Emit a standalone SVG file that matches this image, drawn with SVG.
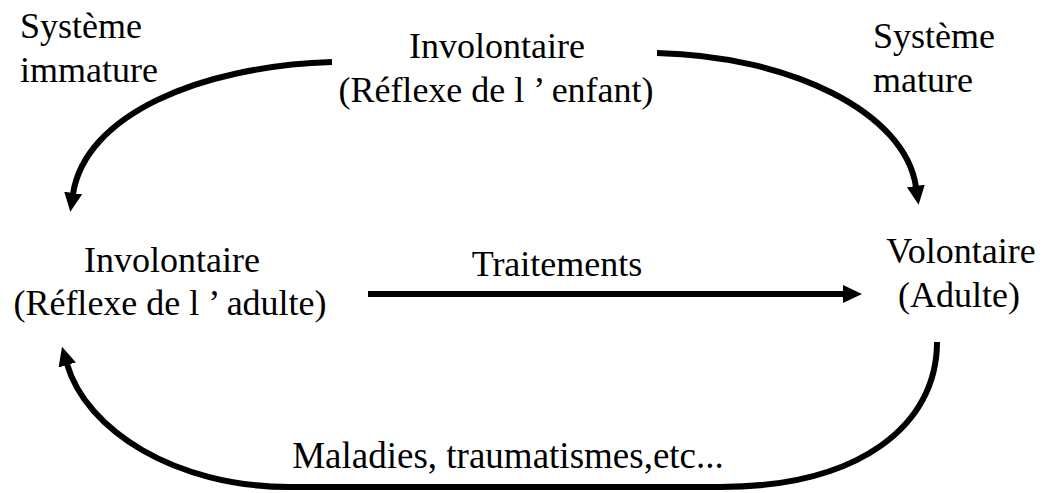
<svg xmlns="http://www.w3.org/2000/svg" width="1044" height="493" viewBox="0 0 1044 493">
<style>
text{font-family:'Liberation Serif','Tinos','Times New Roman','DejaVu Serif',serif;font-size:36px;fill:#000}
.c{text-anchor:middle}
.e{fill:none;stroke:#000;stroke-width:6}
</style>
<defs>
<marker id="ah" markerUnits="userSpaceOnUse" markerWidth="20" markerHeight="20" refX="1" refY="9" orient="auto">
<path d="M0,0 L19,9 L0,18 z" fill="#000"/>
</marker>
</defs>
<rect width="1044" height="493" fill="#fff"/>
<g id="connectors">
<path id="e-enfant-adulte" class="e" d="M332,62 C200,66 85,115 73,194" marker-end="url(#ah)"/>
<path id="e-enfant-volontaire" class="e" d="M657,53 C790,56 905,112 916,187" marker-end="url(#ah)"/>
<path id="e-traitements" class="e" d="M368,294 L844,294" marker-end="url(#ah)"/>
<path id="e-maladies" class="e" d="M937,342 C937,425 860,487 720,487 L290,487 C175,487 86,430 67,364" marker-end="url(#ah)"/>
</g>
<g id="label-immature">
<text x="20" y="38">Système</text>
<text x="20" y="82">immature</text>
</g>
<g id="label-mature">
<text x="873" y="48">Système</text>
<text x="873" y="92">mature</text>
</g>
<g id="node-enfant">
<text class="c" x="497" y="58">Involontaire</text>
<text class="c" x="496" y="102">(Réflexe de l ’ enfant)</text>
</g>
<g id="node-adulte-reflexe">
<text class="c" x="172" y="272">Involontaire</text>
<text class="c" x="170" y="315">(Réflexe de l ’ adulte)</text>
</g>
<g id="node-volontaire">
<text class="c" x="961" y="263">Volontaire</text>
<text class="c" x="959" y="307">(Adulte)</text>
</g>
<g id="label-traitements">
<text class="c" x="557" y="276">Traitements</text>
</g>
<g id="label-maladies">
<text class="c" x="508" y="468" style="font-size:37px">Maladies, traumatismes,etc...</text>
</g>
</svg>
